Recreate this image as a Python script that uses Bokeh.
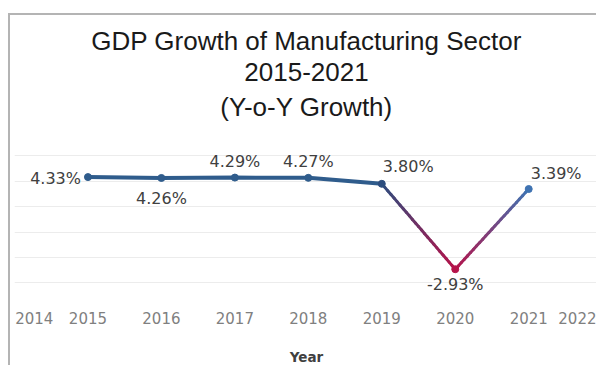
import numpy as np
from bokeh.plotting import figure
from bokeh.models import Title, FixedTicker, SingleIntervalTicker, BasicTickFormatter, ColumnDataSource
from bokeh.core.properties import value
from bokeh.embed import file_html
from bokeh.resources import INLINE

# ---- data ----
years = [2015, 2016, 2017, 2018, 2019, 2020, 2021]
growth = [4.33, 4.26, 4.29, 4.27, 3.80, -2.93, 3.39]
labels = ["4.33%", "4.26%", "4.29%", "4.27%", "3.80%", "-2.93%", "3.39%"]
tick_positions = [2014.27, 2015, 2016, 2017, 2018, 2019, 2020, 2021, 2021.8]
tick_overrides = {2014.27: "2014", 2021.8: "2022"}

# ---- label placement / styling (screen offsets) ----
label_dx = [-7, 0, 0, 0, 1, 0, 2]
label_dy = [1, 21, -16, -16, -17, 15, -16]
label_align = ["right", "center", "center", "center", "left", "center", "left"]
point_colors = ["#2f5c8c", "#2f5c8c", "#2f5c8c", "#2f5c8c", "#2c4d7e", "#b5134a", "#3f73b2"]

p = figure(width=588, height=352, x_range=(2014, 2021.95), y_range=(-5.55, 8),
           output_backend="svg", toolbar_location=None,
           min_border_left=4, min_border_right=0, min_border_top=115, min_border_bottom=60,
           margin=(13, 0, 0, 8))
p.styles = {"border-left": "2px solid #b4b4b4", "border-top": "2px solid #b4b4b4"}
p.outline_line_color = None
p.background_fill_color = "white"
p.border_fill_color = "white"

# titles (stacked above)
for txt, st in [("(Y-o-Y Growth)", 18), ("2015-2021", 0), ("GDP Growth of Manufacturing Sector", 9)]:
    t = Title(text=txt, align="center", text_font="Liberation Sans", text_font_size="26px",
              text_font_style="normal", text_color="#1a1a1a", standoff=st)
    p.add_layout(t, "above")

# axes
p.yaxis.visible = False
p.xgrid.grid_line_color = None
p.ygrid.ticker = SingleIntervalTicker(interval=2)
p.ygrid.grid_line_color = "#ececec"
p.ygrid.grid_line_width = 1

xa = p.xaxis[0]
xa.ticker = FixedTicker(ticks=tick_positions)
xa.formatter = BasicTickFormatter(precision=0, use_scientific=False)
xa.major_label_overrides = tick_overrides
xa.axis_line_color = None
xa.major_tick_line_color = None
xa.minor_tick_line_color = None
xa.major_label_text_font = "DejaVu Sans"
xa.major_label_text_font_size = "15px"
xa.major_label_text_color = "#808080"
xa.major_label_standoff = 3
xa.axis_label = "Year"
xa.axis_label_text_font = "DejaVu Sans"
xa.axis_label_text_font_size = "13.5px"
xa.axis_label_text_font_style = "bold"
xa.axis_label_text_color = "#404040"
xa.axis_label_standoff = 22

# flat part of the line
p.line(years[:5], growth[:5], line_color="#2f5c8c", line_width=4)

# gradient segments around the 2020 dip
seg_start = ["#2c4d7e", "#b5134a"]
seg_end = ["#b5134a", "#3f73b2"]
def hex2rgb(h):
    return np.array([int(h[i:i + 2], 16) for i in (1, 3, 5)], dtype=float)
n = 24
xs0, ys0, xs1, ys1, cols = [], [], [], [], []
for k, i in enumerate([4, 5]):
    xx = np.linspace(years[i], years[i + 1], n + 1)
    yy = np.linspace(growth[i], growth[i + 1], n + 1)
    c0, c1 = hex2rgb(seg_start[k]), hex2rgb(seg_end[k])
    for j in range(n):
        f = (j + 0.5) / n
        c = c0 + (c1 - c0) * f
        xs0.append(xx[j]); ys0.append(yy[j]); xs1.append(xx[j + 1]); ys1.append(yy[j + 1])
        cols.append("#%02x%02x%02x" % tuple(int(round(v)) for v in c))
p.segment(xs0, ys0, xs1, ys1, line_color=cols, line_width=3, line_cap="round")

# markers
p.scatter(years, growth, size=7, fill_color=point_colors, line_color=point_colors)

# data labels
src = ColumnDataSource(dict(x=years, y=growth, t=labels, dx=label_dx, dy=label_dy, al=label_align))
p.text(x="x", y="y", text="t", x_offset="dx", y_offset="dy", text_align="al",
       text_baseline="middle", source=src, text_font=value("DejaVu Sans"),
       text_font_size="16px", text_color="#404040")

open("out.html", "w").write(file_html(p, INLINE))
